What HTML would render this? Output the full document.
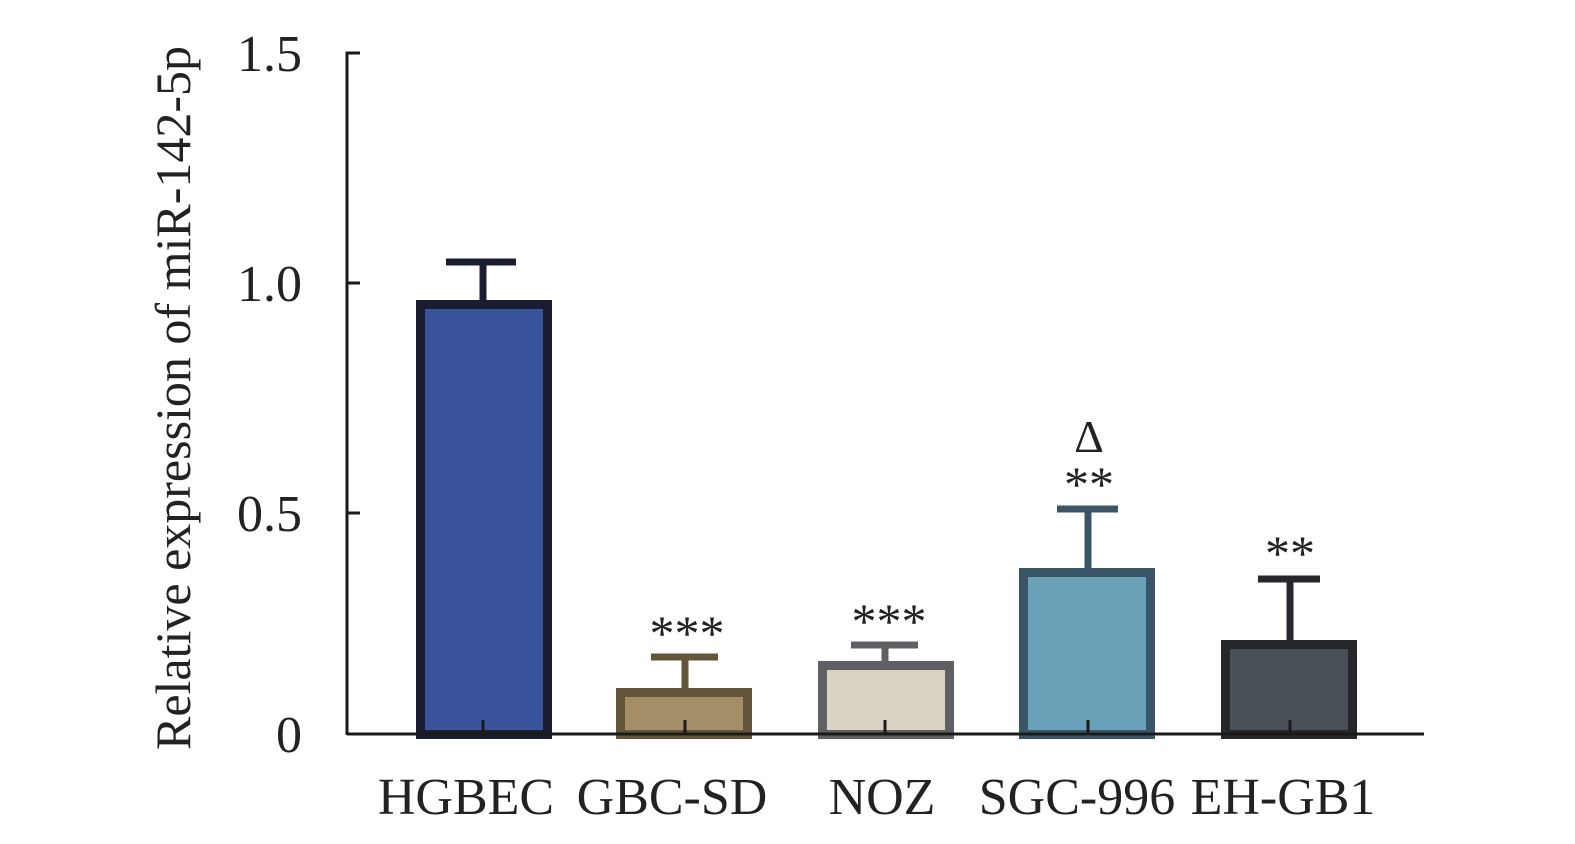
<!DOCTYPE html><html><head><style>body{margin:0;background:#fff}</style></head><body>
<svg width="1575" height="839" xmlns="http://www.w3.org/2000/svg" style="font-family:'Liberation Serif',serif" fill="#222">
<text transform="translate(190,398) rotate(-90)" text-anchor="middle" font-size="50">Relative expression of miR-142-5p</text>
<g font-size="52" text-anchor="end">
<text x="302" y="71">1.5</text><text x="302" y="301">1.0</text><text x="302" y="531">0.5</text><text x="302" y="752">0</text>
</g>
<g stroke="#1a1a1a" stroke-width="3" fill="none">
<path d="M360,53H347V735M347,283H360M347,513H360"/>
</g>
<g stroke-width="9">
<rect x="420.5" y="304.5" width="127" height="430" fill="#3a549b" stroke="#1a1d30"/>
<path d="M483,304V262M446,262H516" stroke="#1a1d30" stroke-width="7"/>
<rect x="620.5" y="692.5" width="127" height="42" fill="#a38e68" stroke="#63553a"/>
<path d="M685,692V657M651,657H718" stroke="#63553a" stroke-width="7"/>
<rect x="822.5" y="665.5" width="127" height="69" fill="#d9d2c3" stroke="#5e6063"/>
<path d="M885,665V645M851,645H918" stroke="#5e6063" stroke-width="7"/>
<rect x="1023.5" y="572.5" width="127" height="162" fill="#69a1b8" stroke="#3a5565"/>
<path d="M1088,572V509M1057,509H1118" stroke="#3a5565" stroke-width="7"/>
<rect x="1225.5" y="644.5" width="127" height="90" fill="#4a5058" stroke="#25272a"/>
<path d="M1290,644V579M1258,579H1320" stroke="#25272a" stroke-width="7"/>
</g>
<g stroke="#1a1a1a" stroke-width="3">
<path d="M347,734H1424"/>
<path d="M483,734V720M685,734V720M885,734V720M1088,734V720M1290,734V720"/>
</g>
<g font-size="50" text-anchor="middle">
<text x="687" y="650">***</text><text x="889" y="638">***</text>
<text x="1089" y="501">**</text><text x="1290" y="570">**</text>
<text x="1089" y="452" font-size="46">Δ</text>
</g>
<g font-size="52" text-anchor="middle">
<text x="466" y="814">HGBEC</text><text x="672" y="814">GBC-SD</text><text x="882" y="814">NOZ</text>
<text x="1077" y="814">SGC-996</text><text x="1283" y="814">EH-GB1</text>
</g>
</svg>
</body></html>
